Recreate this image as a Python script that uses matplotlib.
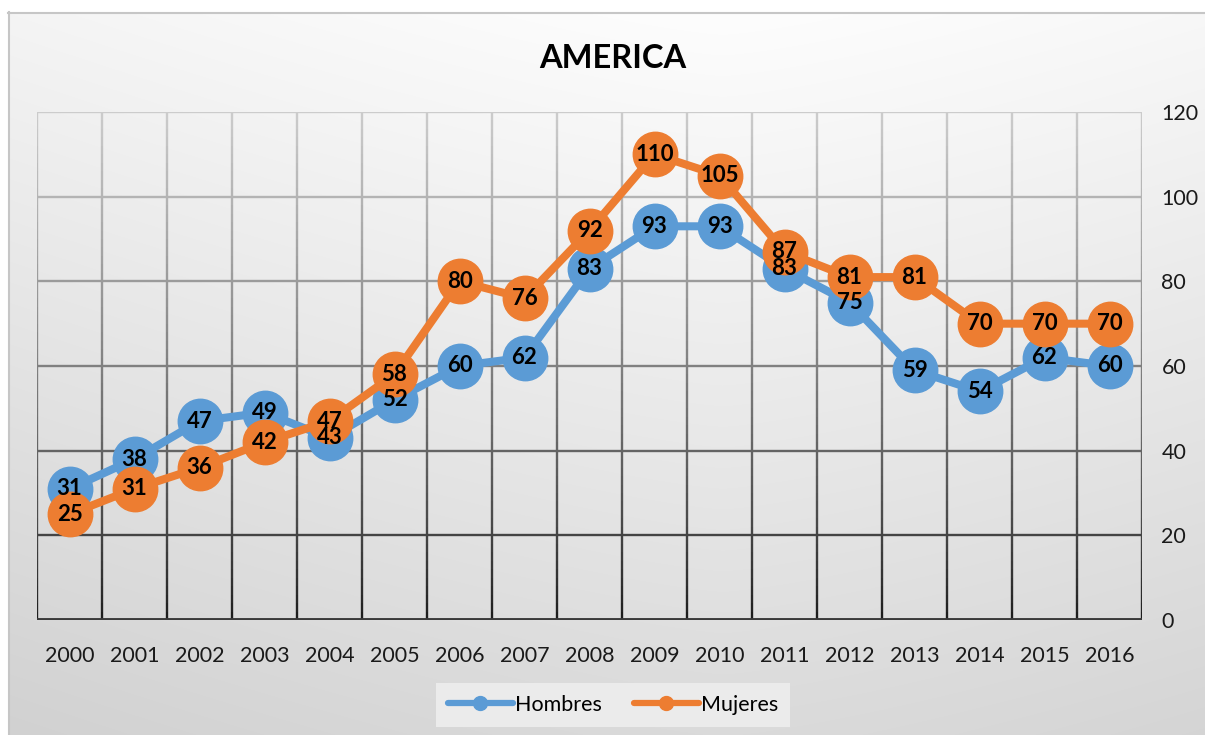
import numpy as np
import matplotlib
matplotlib.use("Agg")
import matplotlib.pyplot as plt
from matplotlib.collections import LineCollection
from matplotlib.lines import Line2D
from matplotlib.patches import Rectangle

years = ["2000", "2001", "2002", "2003", "2004", "2005", "2006", "2007", "2008",
         "2009", "2010", "2011", "2012", "2013", "2014", "2015", "2016"]
hombres = [31, 38, 47, 49, 43, 52, 60, 62, 83, 93, 93, 83, 75, 59, 54, 62, 60]
mujeres = [25, 31, 36, 42, 47, 58, 80, 76, 92, 110, 105, 87, 81, 81, 70, 70, 70]
yticks = [0, 20, 40, 60, 80, 100, 120]
title = "AMERICA"
series_names = ["Hombres", "Mujeres"]

BLUE = "#5B9BD5"
ORANGE = "#ED7D31"
FONT = "Lato"

W, H = 1205, 735
fig = plt.figure(figsize=(W / 100, H / 100), dpi=100, facecolor="#e0e0e0")

# background gradient
bg = fig.add_axes([0, 0, 1, 1], zorder=-10)
yy, xx = np.mgrid[0:1:300j, 0:1:500j]
val = 0.995 - 0.14 * yy - 0.07 * np.abs(xx - 0.6) ** 1.3
val = np.clip(val, 0, 1)
img = np.dstack([val, val, val])
bg.imshow(img, extent=[-2, W + 2, H + 2, -2], aspect="auto", interpolation="bilinear")
bg.add_patch(Rectangle((-2, -2), W + 4, 14, facecolor="white", edgecolor="none"))
bg.add_patch(Rectangle((-2, -2), 10, H + 4, facecolor="white", edgecolor="none"))
bg.plot([8, W + 2], [12.5, 12.5], color="#c6c6c6", lw=1.5)
bg.plot([8.5, 8.5], [12, H + 2], color="#c6c6c6", lw=1.5)
bg.set_xlim(0, W)
bg.set_ylim(H, 0)
bg.axis("off")

left, right, top, bottom = 37, 1142, 112, 620
ax = fig.add_axes([left / W, 1 - bottom / H, (right - left) / W, (bottom - top) / H])
ax.set_facecolor("none")
n = len(years)
x = np.arange(n)
ax.set_xlim(-0.5, n - 0.5)
ax.set_ylim(0, 120)


def grid_color(v):
    t = v / 120.0  # 0 bottom, 1 top
    t = t ** 0.8
    c0 = np.array([0.10, 0.10, 0.10])
    c1 = np.array([0.80, 0.80, 0.80])
    return tuple(c0 + (c1 - c0) * t)


segs, cols = [], []
ys = np.linspace(0, 120, 61)
for k in range(n + 1):
    xv = k - 0.5
    for a, b in zip(ys[:-1], ys[1:]):
        segs.append([(xv, a), (xv, b)])
        cols.append(grid_color((a + b) / 2))
ax.add_collection(LineCollection(segs, colors=cols, linewidths=1.7, zorder=1,
                                 capstyle="butt"))
for v in yticks[1:]:
    ax.plot([-0.5, n - 0.5], [v, v], color=grid_color(v), lw=1.7, zorder=1,
            solid_capstyle="butt")
ax.plot([-0.5, n - 0.5], [0, 0], color="#3a3a3a", lw=2.8, zorder=2,
        solid_capstyle="butt")

for s in ax.spines.values():
    s.set_visible(False)

ax.plot(x, hombres, color=BLUE, lw=5.8, marker="o", ms=32, mec=BLUE, mfc=BLUE,
        zorder=3, solid_capstyle="round")
ax.plot(x, mujeres, color=ORANGE, lw=5.8, marker="o", ms=32, mec=ORANGE, mfc=ORANGE,
        zorder=4, solid_capstyle="round")

for xi, v in zip(x, hombres):
    ax.text(xi, v, str(v), ha="center", va="center", fontsize=16,
            fontweight="bold", family=FONT, color="black", zorder=6)
for xi, v in zip(x, mujeres):
    ax.text(xi, v, str(v), ha="center", va="center", fontsize=16,
            fontweight="bold", family=FONT, color="black", zorder=6)

ax.set_xticks(x)
ax.set_xticklabels(years, family=FONT, fontsize=15.5, color="#1a1a1a")
ax.tick_params(axis="x", length=0, pad=19)
ax.yaxis.tick_right()
ax.set_yticks(yticks)
ax.set_yticklabels([str(v) for v in yticks], family=FONT, fontsize=15.5,
                   color="#1a1a1a")
ax.tick_params(axis="y", length=0, pad=14)

fig.text(613 / W, 1 - 58 / H, title, ha="center", va="center", fontsize=23.5,
         fontweight="bold", family=FONT, color="black")

handles = [
    Line2D([], [], color=BLUE, lw=4.5, marker="o", ms=10, mfc=BLUE, mec=BLUE,
           solid_capstyle="round"),
    Line2D([], [], color=ORANGE, lw=4.5, marker="o", ms=10, mfc=ORANGE, mec=ORANGE,
           solid_capstyle="round"),
]
leg = fig.legend(handles, series_names, loc="center",
                 bbox_to_anchor=(613 / W, 1 - 705 / H), ncol=2,
                 prop={"family": FONT, "size": 15.5}, frameon=True,
                 handlelength=3.0, handletextpad=0.1, columnspacing=1.5,
                 borderpad=0.55, fancybox=False)
leg.get_frame().set_facecolor("#ebebeb")
leg.get_frame().set_edgecolor("none")
leg.get_frame().set_alpha(1)

fig.savefig("out.png", dpi=100, facecolor=fig.get_facecolor())
